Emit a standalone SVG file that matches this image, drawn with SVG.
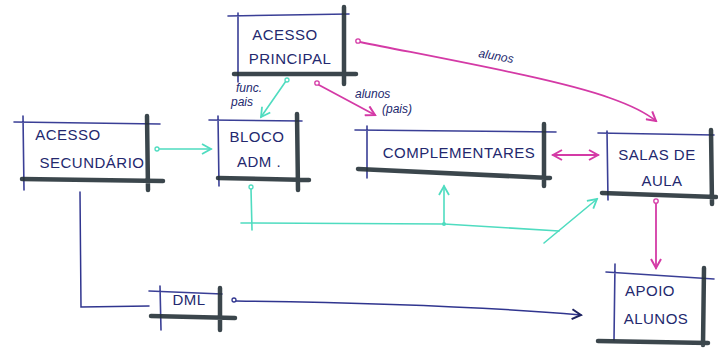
<svg xmlns="http://www.w3.org/2000/svg" width="718" height="360" viewBox="0 0 718 360">
<style>
.thin{stroke:#3a3f96;stroke-width:1.6;fill:none;stroke-linecap:round}
.thick{stroke:#263238;stroke-width:4.5;fill:none;stroke-linecap:round;opacity:.9}
.t{font-family:"Liberation Sans",Arial,sans-serif;font-size:15px;fill:#23286e;text-anchor:middle;letter-spacing:0.5px}
.lb{font-family:"Liberation Sans",Arial,sans-serif;font-size:12px;fill:#23286e;font-style:italic}
.mg{stroke:#d43aa6;stroke-width:1.8;fill:none;stroke-linecap:round}
.cy{stroke:#4fdcc0;stroke-width:1.6;fill:none;stroke-linecap:round}
.nv{stroke:#30358f;stroke-width:1.5;fill:none;stroke-linecap:round}
</style>
<defs>
<marker id="am" viewBox="0 0 12 12" refX="10" refY="6" markerWidth="12" markerHeight="12" markerUnits="userSpaceOnUse" orient="auto-start-reverse"><path d="M1,1 L10,6 L1,11" fill="none" stroke="#d43aa6" stroke-width="2"/></marker>
<marker id="ac" viewBox="0 0 12 12" refX="10" refY="6" markerWidth="12" markerHeight="12" markerUnits="userSpaceOnUse" orient="auto"><path d="M1,1 L10,6 L1,11" fill="none" stroke="#4fdcc0" stroke-width="1.8"/></marker>
<marker id="an" viewBox="0 0 12 12" refX="10" refY="6" markerWidth="12" markerHeight="12" markerUnits="userSpaceOnUse" orient="auto"><path d="M1,1 L10,6 L1,11" fill="none" stroke="#1d2260" stroke-width="2"/></marker>
</defs>
<rect width="718" height="360" fill="#ffffff"/>

<g id="acesso-principal">
<path class="thin" d="M228,16 L349,14 M238,13 L238,82"/>
<path class="thick" d="M344,7 L344,84 M234,74 L356,74"/>
<text class="t" x="285" y="40">ACESSO</text>
<text class="t" x="290" y="64">PRINCIPAL</text>
</g>

<g id="acesso-secundario">
<path class="thin" d="M14,122 L160,124 M23,116 L24,190"/>
<path class="thick" d="M147,116 L148,190 M22,179 L163,181"/>
<text class="t" x="68" y="140">ACESSO</text>
<text class="t" x="92" y="168">SECUNDÁRIO</text>
</g>

<g id="bloco-adm">
<path class="thin" d="M209,120 L302,121 M218,116 L219,186"/>
<path class="thick" d="M297,114 L298,190 M218,178 L309,180"/>
<text class="t" x="257" y="142">BLOCO</text>
<text class="t" x="259" y="167">ADM .</text>
</g>

<g id="complementares">
<path class="thin" d="M355,130 L556,132 M367,126 L367,178"/>
<path class="thick" d="M544,124 L544,186 M358,169 L550,178"/>
<text class="t" x="459" y="158">COMPLEMENTARES</text>
</g>

<g id="salas-de-aula">
<path class="thin" d="M598,133 L714,135 M607,131 L608,200"/>
<path class="thick" d="M711,130 L712,204 M602,193 L716,197"/>
<text class="t" x="657" y="160">SALAS DE</text>
<text class="t" x="662" y="186">AULA</text>
</g>

<g id="dml">
<path class="thin" d="M149,291 L222,294 M160,286 L161,330"/>
<path class="thick" d="M220,288 L220,330 M151,316 L235,318"/>
<text class="t" x="189" y="305">DML</text>
</g>

<g id="apoio-alunos">
<path class="thin" d="M606,272 L714,279 M615,264 L614,340"/>
<path class="thick" d="M704,268 L703,345 M598,341 L708,343"/>
<text class="t" x="650" y="296">APOIO</text>
<text class="t" x="656" y="324">ALUNOS</text>
</g>

<g id="connectors">
<!-- alunos: principal -> salas -->
<path class="mg" d="M360,42 C460,62 560,80 610,98 C630,105 645,112 656,121" marker-end="url(#am)"/>
<circle cx="358" cy="41" r="2.2" fill="#fff" stroke="#d43aa6" stroke-width="1.3"/>
<text class="lb" x="478" y="57" transform="rotate(10 478 57)">alunos</text>
<!-- alunos (pais): principal -> complementares -->
<path class="mg" d="M319,85 L375,115" marker-end="url(#am)"/>
<circle cx="317" cy="83" r="2.2" fill="#fff" stroke="#d43aa6" stroke-width="1.3"/>
<text class="lb" x="355" y="98">alunos</text>
<text class="lb" x="382" y="113">(pais)</text>
<!-- func. pais: principal -> bloco adm -->
<path class="cy" d="M286,81 L261,117" marker-end="url(#ac)"/>
<circle cx="287" cy="80" r="2" fill="#fff" stroke="#4fdcc0" stroke-width="1.3"/>
<text class="lb" x="236" y="92">func.</text>
<text class="lb" x="231" y="106">pais</text>
<!-- secundario -> bloco adm -->
<path class="cy" d="M159,149 L211,149" marker-end="url(#ac)"/>
<circle cx="157" cy="149" r="2" fill="#fff" stroke="#4fdcc0" stroke-width="1.3"/>
<!-- complementares <-> salas -->
<path class="mg" d="M553,155 L598,155" marker-start="url(#am)" marker-end="url(#am)"/>
<!-- bloco adm -> complementares / salas (cyan) -->
<path class="cy" d="M251,189 L252,230"/>
<circle cx="251" cy="187" r="2" fill="#fff" stroke="#4fdcc0" stroke-width="1.3"/>
<path class="cy" d="M241,223 L444,224 L559,231"/>
<circle cx="444" cy="224" r="2" fill="#4fdcc0"/>
<path class="cy" d="M444,224 L444,186" marker-end="url(#ac)"/>
<path class="cy" d="M544,243 L597,199" marker-end="url(#ac)"/>
<!-- salas -> apoio -->
<path class="mg" d="M656,203 L656,268" marker-end="url(#am)"/>
<circle cx="656" cy="201" r="2.2" fill="#fff" stroke="#d43aa6" stroke-width="1.3"/>
<!-- secundario -> dml -->
<path class="nv" d="M80,192 L81,307 L149,306"/>
<!-- dml -> apoio -->
<path class="nv" d="M236,301 C400,303 500,308 581,315" marker-end="url(#an)"/>
<circle cx="234" cy="300" r="2" fill="#fff" stroke="#30358f" stroke-width="1.3"/>
</g>
</svg>
